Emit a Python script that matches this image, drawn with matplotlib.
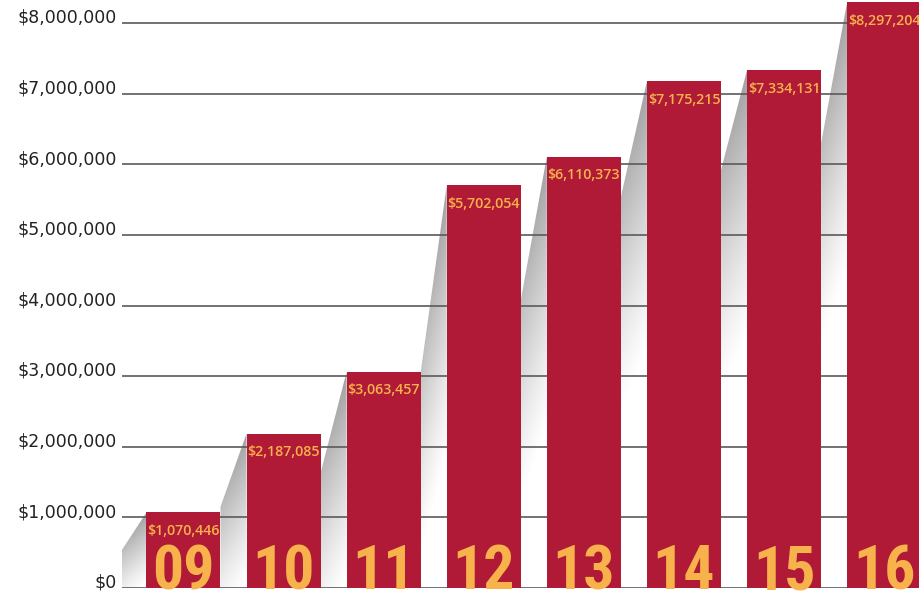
import numpy as np
import matplotlib
matplotlib.use("Agg")
import matplotlib.pyplot as plt
from matplotlib.patches import Polygon
from matplotlib import font_manager as fm
from matplotlib.font_manager import FontProperties

years = ["09", "10", "11", "12", "13", "14", "15", "16"]
values = [1070446, 2187085, 3063457, 5702054, 6110373, 7175215, 7334131, 8297204]
value_labels = ["$1,070,446", "$2,187,085", "$3,063,457", "$5,702,054",
                "$6,110,373", "$7,175,215", "$7,334,131", "$8,297,204"]
yticks = [0, 1000000, 2000000, 3000000, 4000000, 5000000, 6000000, 7000000, 8000000]
ytick_labels = ["$0", "$1,000,000", "$2,000,000", "$3,000,000", "$4,000,000",
                "$5,000,000", "$6,000,000", "$7,000,000", "$8,000,000"]
# height at which each decorative shadow wedge meets the previous bar (style)
shadow_end = [540000, 1150000, 1630000, 3060000, 4080000, 5540000, 5920000, 6300000]

BAR = "#B01A36"
GOLD = "#F7B24B"
W = 0.74

# look for a condensed bold face for the big year numbers
year_fp = FontProperties(family="Roboto", weight="bold", size=42)
cands = []
for f in fm.fontManager.ttflist:
    n = f.name
    cond = ("Condensed" in n or "Narrow" in n or f.stretch in ("condensed", "semi-condensed")
            or "Condensed" in f.fname or "Narrow" in f.fname)
    bold = (f.weight in ("bold", 700, "heavy", 800, 900)) or ("Bold" in f.fname)
    if cond and bold and "Oblique" not in f.fname and "Italic" not in f.fname:
        cands.append(f)
def rank(f):
    for i, key in enumerate(["Roboto", "Liberation", "DejaVu"]):
        if key in f.name or key in f.fname:
            return i
    return 9
cands.sort(key=rank)
if cands:
    year_fp = FontProperties(fname=cands[0].fname, size=44.5)

fig = plt.figure(figsize=(9.2, 5.93), dpi=100)
ax = fig.add_axes([122/920, 5/593, 798/920, 588/593])
x = np.arange(len(values))
xlim = (-0.614, 7.358)
ax.set_xlim(*xlim)
ax.set_ylim(0, 8.329e6)

# shadows
prev_x = xlim[0]
for i, v in enumerate(values):
    xl = i - W/2
    ye = shadow_end[i]
    poly = Polygon([(prev_x, ye), (xl, v), (xl, 0), (prev_x, 0)],
                   closed=True, facecolor="none", edgecolor="none")
    ax.add_patch(poly)
    nx, ny = 60, 300
    gx = np.linspace(prev_x, xl, nx)
    gy = np.linspace(0, v, ny)
    GX, GY = np.meshgrid(gx, gy)
    yline = ye + (v - ye) * (GX - prev_x) / (xl - prev_x)
    L = min(3.8e6, 0.95 * v)
    d = (0.55 * (yline - GY) + 0.45 * (v - GY)) / L
    alpha = 0.66 * np.clip(1 - d, 0, 1) ** 1.2
    img = np.zeros((ny, nx, 4))
    img[..., 0:3] = 0.45
    img[..., 3] = alpha
    im = ax.imshow(img, extent=(prev_x, xl, 0, v), origin="lower",
                   aspect="auto", zorder=1, interpolation="bilinear")
    im.set_clip_path(poly)
    prev_x = i + W/2

for t in yticks:
    ax.axhline(t, color="#5a5a5a", lw=1.2, zorder=2)

ax.bar(x, values, width=W, color=BAR, zorder=3)

for i, (v, lab, yr) in enumerate(zip(values, value_labels, years)):
    ax.annotate(lab, (i, v), xytext=(0, -13.5), textcoords="offset points",
                ha="center", va="center", color=GOLD, fontsize=10.3,
                family="Open Sans", fontweight="semibold",
                zorder=4, annotation_clip=False, clip_on=False)
    ax.annotate(yr, (i, 0), xytext=(0, -1.0), textcoords="offset points",
                ha="center", va="baseline", color=GOLD, fontproperties=year_fp,
                zorder=4, annotation_clip=False, clip_on=False)

for t, lab in zip(yticks, ytick_labels):
    ax.annotate(lab, (0, t), xycoords=("axes fraction", "data"),
                xytext=(-3.8, 3.8), textcoords="offset points",
                ha="right", va="center", fontsize=12.5, color="#222222",
                annotation_clip=False)

ax.set_xticks([])
ax.set_yticks([])
for s in ax.spines.values():
    s.set_visible(False)

fig.savefig("out.png", dpi=100)
